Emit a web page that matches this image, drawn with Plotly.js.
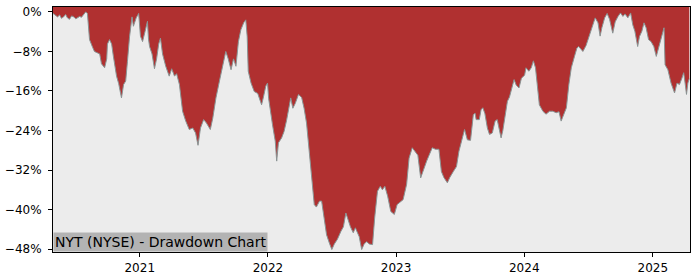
<!DOCTYPE html>
<html>
<head>
<meta charset="utf-8">
<script src="https://cdn.plot.ly/plotly-3.0.1.min.js"></script>
<style>html,body{margin:0;padding:0;background:#fff;}#chart{width:700px;height:280px;}</style>
</head>
<body>
<div id="chart"></div>
<script>
// Drawdown (%) of NYT (NYSE)
const dates2020 = ['2020-04-29','2020-05-07','2020-05-12','2020-05-18','2020-05-23','2020-05-29','2020-06-04','2020-06-09','2020-06-15','2020-06-21','2020-06-27','2020-07-03','2020-07-08','2020-07-14','2020-07-19','2020-07-25','2020-07-31','2020-08-05','2020-08-08','2020-08-11','2020-08-20','2020-08-25','2020-09-03','2020-09-09','2020-09-14','2020-09-23','2020-09-29','2020-10-01','2020-10-07','2020-10-13','2020-10-18','2020-10-27','2020-11-02','2020-11-10','2020-11-16','2020-11-22','2020-11-27','2020-12-03','2020-12-10','2020-12-14','2020-12-22','2020-12-29'];
const dd2020 = [-0.3,-0.8,-1.0,-0.6,-1.3,-1.0,-0.5,-1.2,-1.5,-0.8,-1.0,-1.4,-1.2,-0.9,-1.1,-0.6,0,-0.3,-4.0,-5.6,-7.2,-8.0,-8.3,-8.5,-10.5,-11.3,-9.5,-6.5,-5.6,-6.5,-9.0,-13.0,-14.5,-17.4,-14.7,-14.0,-10.0,-5.0,-1.0,-2.9,-1.2,-0.3];

const dates2021 = ['2021-01-03','2021-01-09','2021-01-16','2021-01-23','2021-01-26','2021-01-29','2021-02-05','2021-02-12','2021-02-18','2021-02-24','2021-03-01','2021-03-07','2021-03-16','2021-03-26','2021-04-02','2021-04-10','2021-04-16','2021-04-24','2021-05-03','2021-05-12','2021-05-22','2021-06-01','2021-06-09','2021-06-16','2021-06-23','2021-07-02','2021-07-10','2021-07-21','2021-07-28','2021-08-06','2021-08-16','2021-08-25','2021-09-03','2021-09-10','2021-09-18','2021-09-25','2021-10-02','2021-10-09','2021-10-16','2021-10-24','2021-10-30','2021-11-03','2021-11-06','2021-11-14','2021-11-23','2021-12-03','2021-12-08','2021-12-14','2021-12-20','2021-12-26','2021-12-31'];
const dd2021 = [-4.9,-6.0,-4.0,-1.9,-5.5,-7.0,-8.5,-11.5,-9.5,-6.5,-5.3,-8.5,-11.0,-13.0,-11.5,-13.0,-12.5,-14.7,-20.1,-22.1,-23.8,-23.5,-24.5,-27.0,-23.5,-21.8,-22.5,-23.8,-21.5,-17.4,-14.0,-11.0,-8.0,-9.5,-11.7,-9.5,-11.0,-6.0,-3.6,-2.2,-1.6,-5.0,-12.0,-14.4,-16.1,-16.5,-17.5,-18.8,-17.0,-15.0,-14.4];

const dates2022 = ['2022-01-03','2022-01-14','2022-01-22','2022-01-26','2022-01-31','2022-02-09','2022-02-16','2022-02-23','2022-03-01','2022-03-07','2022-03-13','2022-03-20','2022-03-29','2022-04-07','2022-04-14','2022-04-21','2022-04-29','2022-05-06','2022-05-13','2022-05-19','2022-05-28','2022-06-03','2022-06-10','2022-06-17','2022-06-25','2022-07-02','2022-07-09','2022-07-18','2022-07-28','2022-08-04','2022-08-11','2022-08-18','2022-08-24','2022-09-01','2022-09-07','2022-09-18','2022-09-25','2022-10-02','2022-10-09','2022-10-17','2022-10-26','2022-11-01','2022-11-09','2022-11-17','2022-11-23','2022-11-30','2022-12-08','2022-12-17','2022-12-27'];
const dd2022 = [-17.5,-22.8,-26.2,-30.2,-26.5,-25.5,-24.2,-22.0,-20.0,-17.4,-19.5,-18.5,-16.7,-17.3,-19.5,-22.5,-28.5,-33.6,-39.0,-39.5,-38.3,-38.3,-41.7,-45.1,-46.8,-48.1,-47.0,-46.0,-44.4,-43.5,-40.7,-42.5,-43.5,-44.7,-43.7,-45.5,-48.1,-47.0,-46.5,-47.0,-47.1,-41.7,-36.3,-35.3,-36.0,-35.3,-37.3,-40.4,-41.0];

const dates2023 = ['2023-01-04','2023-01-14','2023-01-21','2023-01-31','2023-02-07','2023-02-16','2023-02-25','2023-03-04','2023-03-12','2023-03-19','2023-03-29','2023-04-05','2023-04-14','2023-04-23','2023-05-03','2023-05-10','2023-05-17','2023-05-27','2023-06-03','2023-06-13','2023-06-22','2023-06-29','2023-07-08','2023-07-15','2023-07-23','2023-08-01','2023-08-09','2023-08-14','2023-08-17','2023-08-26','2023-08-31','2023-09-05','2023-09-11','2023-09-18','2023-09-24','2023-10-02','2023-10-10','2023-10-16','2023-10-21','2023-10-27','2023-11-01','2023-11-07','2023-11-14','2023-11-20','2023-11-28','2023-12-03','2023-12-09','2023-12-17','2023-12-24'];
const dd2023 = [-39.0,-38.5,-38.0,-34.9,-29.6,-27.5,-28.5,-29.0,-33.6,-32.0,-30.2,-29.0,-27.5,-27.8,-27.8,-32.3,-33.5,-34.6,-33.5,-32.3,-31.3,-28.2,-25.5,-23.8,-25.9,-26.0,-20.8,-20.5,-21.8,-21.8,-19.8,-19.4,-20.6,-23.5,-24.8,-24.5,-22.1,-21.8,-23.5,-25.5,-24.0,-21.5,-18.1,-17.2,-15.1,-13.7,-14.8,-15.4,-13.4];

const dates2024 = ['2024-01-02','2024-01-06','2024-01-14','2024-01-21','2024-01-27','2024-02-02','2024-02-09','2024-02-13','2024-02-23','2024-03-03','2024-03-13','2024-03-22','2024-04-01','2024-04-09','2024-04-15','2024-04-22','2024-04-30','2024-05-07','2024-05-14','2024-05-23','2024-05-30','2024-06-04','2024-06-11','2024-06-16','2024-06-25','2024-07-05','2024-07-14','2024-07-21','2024-07-29','2024-08-04','2024-08-09','2024-08-17','2024-08-24','2024-08-31','2024-09-09','2024-09-16','2024-09-24','2024-10-01','2024-10-08','2024-10-14','2024-10-22','2024-10-30','2024-11-05','2024-11-11','2024-11-19','2024-11-24','2024-12-01','2024-12-07','2024-12-13','2024-12-20','2024-12-27'];
const dd2024 = [-12.8,-11.3,-12.0,-11.3,-9.9,-11.3,-16.7,-18.8,-20.1,-20.7,-20.1,-20.1,-20.4,-20.2,-22.1,-20.7,-19.4,-14.7,-11.3,-9.0,-7.3,-7.0,-7.5,-8.0,-6.8,-4.6,-2.6,-1.2,-2.2,-4.9,-3.2,-1.2,-0.3,-1.5,-4.3,-2.0,-0.9,-0.2,-0.9,-0.4,-1.2,-0.2,-2.6,-3.9,-7.0,-5.0,-3.9,-2.2,-3.2,-5.6,-6.0];

const dates2025 = ['2025-01-04','2025-01-11','2025-01-18','2025-01-25','2025-02-02','2025-02-05','2025-02-13','2025-02-22','2025-03-04','2025-03-11','2025-03-18','2025-03-25','2025-03-30','2025-04-03','2025-04-07','2025-04-11','2025-04-15'];
const dd2025 = [-7.0,-9.0,-7.3,-5.3,-3.2,-10.7,-11.7,-14.4,-16.4,-14.4,-14.7,-13.4,-12.3,-14.4,-16.7,-14.4,-13.5];

const yTickVals = [0,-8,-16,-24,-32,-40,-48];
const yTickText = ['0%','\u22128%','\u221216%','\u221224%','\u221232%','\u221240%','\u221248%'];
const xTickVals = ['2021-01-01','2022-01-01','2023-01-01','2024-01-01','2025-01-01'];
const xTickText = ['2021','2022','2023','2024','2025'];
const xRange = ['2020-04-29','2025-04-17'];
const yRange = [-48.6, 1.0];
const title = 'NYT (NYSE) - Drawdown Chart';

const dates = [].concat(dates2020,dates2021,dates2022,dates2023,dates2024,dates2025);
const dd = [].concat(dd2020,dd2021,dd2022,dd2023,dd2024,dd2025);

const RED = '#b03030';
const tickFont = {family:'DejaVu Sans', size:12, color:'#000'};

const traces = [
  {x: dates, y: dates.map(() => yRange[1]), type:'scatter', mode:'lines',
   line:{width:0, color:RED}, hoverinfo:'skip', showlegend:false},
  {x: dates, y: dd, type:'scatter', mode:'lines', fill:'tonexty', fillcolor:RED,
   line:{width:1, color:'#8a9494'}, showlegend:false}
];

const axisCommon = {showline:true, linecolor:'#000', linewidth:1, mirror:true,
  ticks:'outside', ticklen:4, tickwidth:1, tickcolor:'#000', showgrid:false, zeroline:false,
  tickfont: tickFont};

const layout = {
  width:700, height:280,
  margin:{l:53, r:10, t:7, b:28, pad:0},
  paper_bgcolor:'#ffffff', plot_bgcolor:'#ececec',
  showlegend:false,
  xaxis: Object.assign({}, axisCommon, {type:'date', range:xRange, tickmode:'array', tickvals:xTickVals, ticktext:xTickText, ticklabelstandoff:1}),
  yaxis: Object.assign({}, axisCommon, {range:yRange, tickmode:'array', tickvals:yTickVals, ticktext:yTickText, ticklabelstandoff:4}),
  annotations:[{text:title, xref:'paper', yref:'paper', x:0, y:0, xanchor:'left', yanchor:'bottom',
    showarrow:false, bgcolor:'#b3b3b3', borderpad:1, borderwidth:1, bordercolor:'rgba(0,0,0,0)',
    font:{family:'DejaVu Sans', size:14, color:'#000'}}]
};

Plotly.newPlot('chart', traces, layout, {staticPlot:true, displayModeBar:false});
</script>
</body>
</html>
